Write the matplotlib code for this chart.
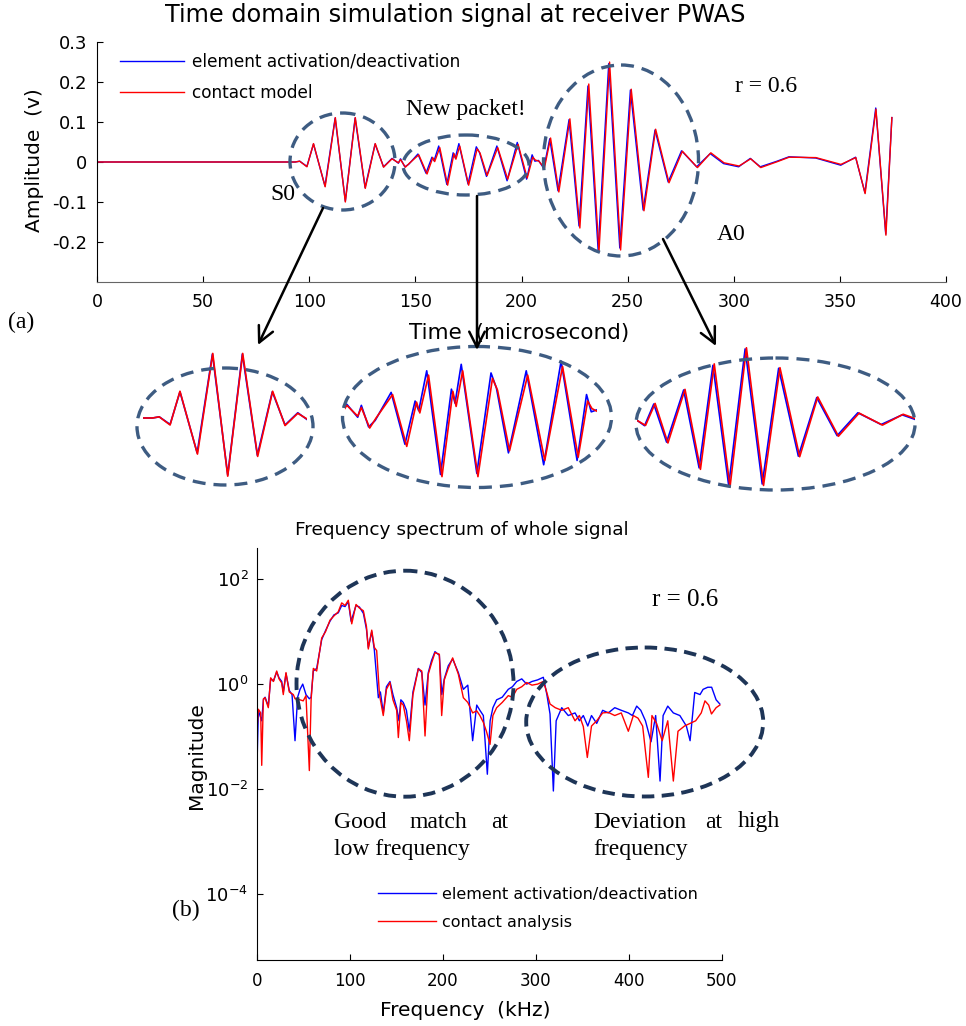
import numpy as np
import matplotlib
matplotlib.use('Agg')
import matplotlib.pyplot as plt
from matplotlib.patches import Ellipse

plt.rcParams['axes.unicode_minus'] = False
plt.rcParams['mathtext.default'] = 'regular'

# ---- time domain signal, microsecond / volt ----
red_t = [0, 93.4, 95.5, 98.9, 102.0, 107.5, 112.3, 117.0, 121.7, 126.4,
         131.1, 135.0, 139.0, 142.0, 143.0, 145.3, 147.0, 151.6, 155.5, 158.2,
         159.1, 161.5, 165.2, 168.2, 169.1, 170.9, 175.1, 179.1, 180.5, 183.8,
         188.8, 193.5, 198.4, 202.7, 205.3, 206.5, 208.2, 210.8, 213.7, 217.6,
         222.8, 227.5, 231.7, 236.5, 241.5, 246.7, 251.7, 257.7, 263.2, 269.5,
         275.8, 282.9, 289.2, 295.4, 302.5, 308.0, 312.7, 320.6, 326.1, 338.7,
         350.5, 357.5, 361.9, 367.0, 371.7, 374.5]
red_v = [0, 0, 0.002, -0.012, 0.046, -0.062, 0.111, -0.100, 0.111, -0.066,
         0.046, -0.013, 0.008, -0.002, 0.006, -0.013, -0.004, 0.018, -0.030, 0.011,
         0.001, 0.036, -0.058, 0.021, 0.007, 0.040, -0.058, 0.033, 0.022, -0.034,
         0.036, -0.043, 0.044, -0.040, 0.012, 0.005, 0.002, -0.015, 0.060, -0.075,
         0.108, -0.165, 0.195, -0.225, 0.250, -0.220, 0.182, -0.122, 0.082, -0.052,
         0.027, -0.014, 0.023, -0.002, -0.010, 0.008, -0.014, 0.001, 0.012, 0.011,
         -0.006, 0.011, -0.079, 0.132, -0.183, 0.111]

blue_t = [0, 93.4, 95.5, 98.9, 102.0, 107.4, 112.2, 117.0, 121.6, 126.3,
          131.0, 135.0, 139.0, 142.0, 143.0, 145.0, 146.8, 151.2, 155.0, 157.8,
          158.8, 161.0, 164.8, 167.8, 168.8, 170.5, 174.8, 178.7, 180.2, 183.5,
          188.4, 193.2, 198.0, 202.4, 205.0, 206.3, 208.0, 210.5, 213.3, 217.2,
          222.4, 227.1, 231.3, 236.1, 241.1, 246.3, 251.3, 257.3, 262.9, 269.1,
          275.4, 282.5, 288.9, 295.2, 302.3, 307.8, 312.5, 320.4, 326.0, 338.6,
          350.4, 357.4, 361.8, 366.9, 371.6, 374.5]
blue_v = [0, 0, 0.002, -0.011, 0.045, -0.060, 0.110, -0.098, 0.110, -0.064,
          0.045, -0.012, 0.009, -0.003, 0.008, -0.012, -0.006, 0.020, -0.028, 0.012,
          0.003, 0.040, -0.056, 0.023, 0.010, 0.046, -0.055, 0.038, 0.024, -0.036,
          0.040, -0.047, 0.049, -0.043, 0.018, 0.002, 0.004, -0.016, 0.058, -0.072,
          0.106, -0.160, 0.190, -0.220, 0.246, -0.215, 0.180, -0.120, 0.080, -0.050,
          0.028, -0.012, 0.021, -0.004, -0.012, 0.009, -0.012, 0.002, 0.013, 0.010,
          -0.008, 0.012, -0.077, 0.135, -0.180, 0.111]

# ---- frequency spectrum (kHz, log10 of magnitude) ----
red_f = [0, 1.8, 4.3, 5.4, 7.2, 9, 12.5, 15, 18, 21.5,
         24, 26.9, 28.6, 31.5, 35, 39.4, 41.2, 46.6, 50, 53,
         56.6, 58.5, 60.9, 64.5, 69.9, 74, 78.8, 83, 87.7, 91.4,
         95, 98.5, 102.2, 106.8, 110.5, 114.7, 118, 120, 123.7, 126.5,
         129, 132, 136.1, 139.5, 143.3, 146.5, 150.5, 152.3, 155, 157.6,
         161, 164.1, 168, 173.8, 177.5, 181, 184.5, 188, 191.7, 196.4,
         198.9, 201.7, 206, 210.7, 216.8, 222.2, 227, 232.2, 236.6, 240,
         243.7, 247, 250.9, 254, 258, 264, 270.5, 275, 279.6, 285,
         290.3, 296, 302, 308.2, 311, 315.4, 321, 328, 335, 342.3,
         347, 351.2, 355.5, 360, 365.6, 372, 378.1, 385, 392, 399.6,
         405, 410, 415, 421.1, 425, 430, 436, 442, 448, 453,
         460, 466, 472, 478, 482, 486, 489, 494, 498]
red_log = [-0.95, -0.48, -0.55, -1.55, -0.28, -0.26, -0.45, 0.12, 0.05, 0.25,
           0.10, 0.02, -0.20, 0.22, -0.15, -0.20, -0.28, -0.30, -0.32, -0.22,
           -1.65, -0.30, 0.30, 0.25, 0.88, 1.00, 1.22, 1.30, 1.38, 1.55,
           1.50, 1.60, 1.15, 1.52, 1.45, 1.40, 1.10, 0.67, 1.03, 0.70,
           0.64, -0.20, -0.60, -0.10, 0.03, -0.30, -0.50, -1.02, -0.35, -0.40,
           -0.70, -1.08, -0.20, 0.29, 0.25, -0.99, 0.19, 0.40, 0.60, 0.57,
           -0.60, 0.08, 0.30, 0.50, 0.19, -0.26, -0.35, -0.55, -0.51, -0.60,
           -0.73, -0.90, -1.15, -0.60, -0.45, -0.35, -0.22, -0.25, -0.10, -0.05,
           0.03, -0.02, 0.00, 0.05, -0.10, -0.38, -0.45, -0.50, -0.45, -0.70,
           -0.60, -0.81, -1.40, -0.80, -0.70, -0.55, -0.54, -0.60, -0.55, -0.90,
           -0.60, -0.65, -0.80, -1.78, -0.60, -0.75, -1.08, -0.70, -1.85, -0.90,
           -0.80, -0.75, -0.70, -0.55, -0.32, -0.40, -0.57, -0.45, -0.40]

blue_f = [0, 1.8, 3.5, 5.4, 7.2, 9, 12.5, 15, 18, 21.5,
          24, 26.9, 28.6, 31.5, 35, 38, 41.2, 44, 46.6, 49.5,
          53, 56.6, 58.5, 60.9, 64.5, 69.9, 74, 78.8, 83, 87.7,
          91.4, 95, 98.5, 101.5, 106.8, 110.5, 114.7, 118, 120, 123.7,
          126.5, 130.8, 133, 136.1, 139.5, 143.3, 146.5, 150.5, 153, 155,
          157.6, 161, 164.1, 168, 173.8, 177.5, 181, 184.5, 188, 191.7,
          196.4, 199, 201.7, 206, 210.7, 216.8, 222.2, 227, 232.2, 236.6,
          240, 243.7, 248, 251, 254, 258, 264, 270.5, 275, 279.6,
          285, 290.3, 296, 302, 308.2, 312, 315.4, 319, 322, 328,
          335, 342.3, 347, 351.2, 356, 360, 365.6, 372, 378.1, 385,
          392, 399.6, 404, 408.6, 413, 418, 424, 429, 433.7, 437,
          442, 448, 455, 462, 466, 471, 476.7, 480, 485, 489.2,
          494, 498]
blue_log = [-1.78, -0.50, -0.60, -0.70, -0.30, -0.25, -0.42, 0.10, 0.06, 0.23,
            0.12, 0.05, -0.15, 0.20, -0.12, -0.20, -1.08, -0.25, -0.10, 0.00,
            -0.20, -0.28, -0.25, 0.25, 0.30, 0.85, 1.02, 1.20, 1.32, 1.36,
            1.50, 1.48, 1.57, 1.20, 1.50, 1.47, 1.35, 1.05, 0.70, 1.00,
            0.65, -0.26, -0.15, -0.55, -0.05, 0.05, -0.20, -0.45, -0.70, -0.30,
            -0.35, -0.50, -0.90, -0.15, 0.30, 0.22, -0.40, 0.22, 0.45, 0.62,
            0.55, -0.20, 0.10, 0.35, 0.48, 0.22, -0.10, -0.02, -1.08, -0.40,
            -0.50, -0.60, -1.72, -0.70, -0.45, -0.30, -0.25, -0.10, -0.05, 0.05,
            0.10, 0.00, 0.05, 0.08, 0.13, -0.20, -0.57, -2.04, -0.70, -0.45,
            -0.60, -0.55, -0.70, -0.60, -0.80, -0.60, -0.75, -0.50, -0.55, -0.45,
            -0.50, -0.55, -0.60, -0.42, -0.50, -0.70, -1.10, -0.60, -1.85, -0.60,
            -0.42, -0.55, -0.60, -0.80, -1.08, -0.16, -0.20, -0.10, -0.06, -0.06,
            -0.30, -0.38]

BLUE = '#0000ff'
RED = '#ff0000'
SERIF = 'Liberation Serif'

W, H = 966, 1026
fig = plt.figure(figsize=(W / 100, H / 100), dpi=100)


def box(x0, y0, x1, y1):
    # pixel box (top-left origin) -> figure fraction rect
    return [x0 / W, 1 - y1 / H, (x1 - x0) / W, (y1 - y0) / H]


def fxy(x, y):
    return (x / W, 1 - y / H)


def style_axes(ax, bottom_color='black'):
    ax.spines['top'].set_visible(False)
    ax.spines['right'].set_visible(False)
    ax.spines['bottom'].set_color(bottom_color)
    ax.tick_params(direction='in', length=4, top=False, right=False)
    ax.patch.set_alpha(0)


# ---- (a) time domain ----
ax1 = fig.add_axes(box(97, 42, 946, 282))
ax1.plot(blue_t, blue_v, color=BLUE, lw=1, label='element activation/deactivation')
ax1.plot(red_t, red_v, color=RED, lw=1, label='contact model')
ax1.set_xlim(0, 400)
ax1.set_ylim(-0.3, 0.3)
ax1.set_xticks(range(0, 401, 50))
ax1.set_yticks([-0.2, -0.1, 0, 0.1, 0.2, 0.3])
ax1.set_yticklabels(['-0.2', '-0.1', '0', '0.1', '0.2', '0.3'])
style_axes(ax1, '#666666')
ax1.tick_params(axis='y', labelsize=13, pad=7)
ax1.tick_params(axis='x', labelsize=12.5, pad=8)
ax1.legend(loc='upper left', bbox_to_anchor=fxy(120, 53), bbox_transform=fig.transFigure,
           frameon=False, fontsize=12.2, handlelength=3.8, handletextpad=0.45,
           labelspacing=0.75, borderpad=0, borderaxespad=0)

# zoomed packets under the time plot
insets = [
    ((142.7, 306.7), (90.3, 141.8), 418, 582),
    ((345, 596.7), (138.5, 207.8), 414, 1080),
    ((636.7, 915), (208.1, 292.8), 421, 293),
]
for (px0, px1), (t0, t1), base, k in insets:
    ai = fig.add_axes(box(px0, 330, px1, 500))
    ai.plot(blue_t, blue_v, color=BLUE, lw=1.2)
    ai.plot(red_t, red_v, color=RED, lw=1.2)
    ai.set_xlim(t0, t1)
    ai.set_ylim(-(500 - base) / k, (base - 330) / k)
    ai.axis('off')

# ---- (b) spectrum ----
ax2 = fig.add_axes(box(256.7, 547.7, 721.7, 960))
ax2.semilogy(blue_f, 10.0 ** np.array(blue_log), color=BLUE, lw=1,
             label='element activation/deactivation')
ax2.semilogy(red_f, 10.0 ** np.array(red_log), color=RED, lw=1,
             label='contact analysis')
ax2.set_xlim(0, 500)
ax2.set_ylim(10 ** -5.265, 10 ** 2.603)
ax2.set_xticks(range(0, 501, 100))
ax2.set_yticks([1e-4, 1e-2, 1e0, 1e2])
ax2.set_yticklabels(['$10^{-4}$', '$10^{-2}$', '$10^{0}$', '$10^{2}$'])
ax2.yaxis.set_minor_locator(matplotlib.ticker.NullLocator())
style_axes(ax2)
ax2.tick_params(axis='y', labelsize=13, pad=6)
ax2.tick_params(axis='x', labelsize=12, pad=9)
ax2.legend(loc='upper left', bbox_to_anchor=fxy(378, 887), bbox_transform=fig.transFigure,
           frameon=False, fontsize=11.5, handlelength=3.6, handletextpad=0.4,
           labelspacing=0.8, borderpad=0, borderaxespad=0)

# ---- overlay in pixel coordinates for labels, circles and arrows ----
ov = fig.add_axes([0, 0, 1, 1])
ov.set_xlim(0, W)
ov.set_ylim(H, 0)
ov.axis('off')
ov.patch.set_alpha(0)

ring_a = dict(fill=False, ec='#3e5c82', lw=2.4, ls=(0, (3.9, 2.4)))
for cx, cy, w, h in [(342.5, 161.5, 105, 97), (466, 165, 126, 60), (621, 160.5, 155, 191),
                     (225, 426.5, 176, 117), (477, 417, 269, 141), (775.5, 424, 279, 132)]:
    ov.add_patch(Ellipse((cx, cy), w, h, **ring_a))

ring_b = dict(fill=False, ec='#1e3557', lw=2.8, ls=(0, (3.2, 1.9)))
for cx, cy, w, h in [(405, 683.7, 217, 226), (644.7, 722, 237, 149)]:
    ov.add_patch(Ellipse((cx, cy), w, h, **ring_b))

for tail, tip in [((323, 208), (258, 345)), ((477, 196), (477, 350)),
                  ((663, 239), (716, 346))]:
    ov.annotate('', xy=tip, xytext=tail,
                arrowprops=dict(arrowstyle='->', lw=1.8, color='black',
                                mutation_scale=28, shrinkA=0, shrinkB=0))

ov.text(455, 15, 'Time domain simulation signal at receiver PWAS', fontsize=17.3,
        ha='center', va='center')
ov.text(35, 160, 'Amplitude  (v)', fontsize=14.5, rotation=90, ha='center', va='center')
ov.text(519, 333, 'Time  (microsecond)', fontsize=15.5, ha='center', va='center')
ov.text(8, 322, '(a)', fontsize=17, family=SERIF, ha='left', va='center')
ov.text(466, 109, 'New packet!', fontsize=17, family=SERIF, ha='center', va='center')
ov.text(283, 195, 'S0', fontsize=17, family=SERIF, ha='center', va='center')
ov.text(731, 235, 'A0', fontsize=17, family=SERIF, ha='center', va='center')
ov.text(766, 87, 'r = 0.6', fontsize=17, family=SERIF, ha='center', va='center')

ov.text(462, 530, 'Frequency spectrum of whole signal', fontsize=13.3, ha='center', va='center')
ov.text(196, 756, 'Magnitude', fontsize=14.5, rotation=90, ha='center', va='center')
ov.text(465, 1010, 'Frequency  (kHz)', fontsize=14.5, ha='center', va='center')
ov.text(685, 600, 'r = 0.6', fontsize=18, family=SERIF, ha='center', va='center')
ov.text(172, 910, '(b)', fontsize=17, family=SERIF, ha='left', va='center')
for word, x, y in [('Good', 334, 822), ('match', 410, 822), ('at', 491, 822),
                   ('low frequency', 334, 850),
                   ('Deviation', 593, 822), ('at', 705, 822), ('high', 738, 822),
                   ('frequency', 593, 850)]:
    ov.text(x, y, word, fontsize=17, family=SERIF, ha='left', va='center')

fig.savefig('out.png', dpi=100)
